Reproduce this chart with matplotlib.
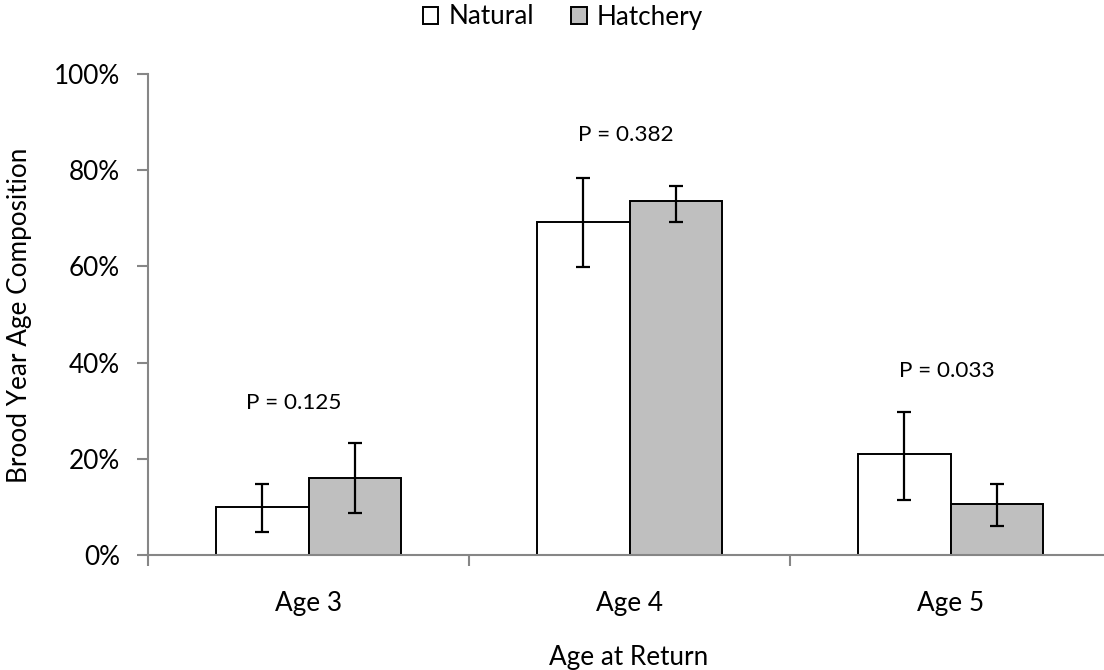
import matplotlib
matplotlib.use("Agg")
import matplotlib.pyplot as plt
import numpy as np
from matplotlib.ticker import FixedLocator, FuncFormatter

plt.rcParams['font.family'] = ['Lato', 'DejaVu Sans']

categories = ["Age 3", "Age 4", "Age 5"]
series = ["Natural", "Hatchery"]
natural = [10.0, 69.2, 21.0]
natural_lo = [4.7, 59.8, 11.5]
natural_hi = [14.8, 78.3, 29.7]
hatchery = [16.0, 73.5, 10.7]
hatchery_lo = [8.7, 69.2, 6.1]
hatchery_hi = [23.3, 76.8, 14.8]
p_labels = ["P = 0.125", "P = 0.382", "P = 0.033"]
p_heights = [31.5, 87.3, 38.3]
y_ticks = [0, 20, 40, 60, 80, 100]

FS = 18.8
FS_P = 16.2

fig = plt.figure(figsize=(11.04, 6.70), dpi=100)
ax = fig.add_axes([148/1104, 115/670, 956/1104, 481/670])

x = np.arange(len(categories))
w = 0.287
axis_grey = "#868686"

def errs(vals, lo, hi):
    v = np.array(vals); return [v - np.array(lo), np.array(hi) - v]

ekw = dict(ecolor="black", elinewidth=1.6, capsize=5, capthick=1.6)
ax.bar(x - w/2, natural, w, color="white", edgecolor="black", linewidth=1.4,
       yerr=errs(natural, natural_lo, natural_hi), error_kw=ekw, label=series[0], zorder=2)
ax.bar(x + w/2, hatchery, w, color="#bfbfbf", edgecolor="black", linewidth=1.4,
       yerr=errs(hatchery, hatchery_lo, hatchery_hi), error_kw=ekw, label=series[1], zorder=2)

for xi, lab, h, dx in zip(x, p_labels, p_heights, [-0.045, -0.012, -0.01]):
    ax.text(xi + dx, h, lab, ha="center", va="center", fontsize=FS_P, color="black")

ax.set_xlim(-0.5, -0.5 + 956/321)
ax.set_ylim(0, 100)
ax.set_yticks(y_ticks)
ax.yaxis.set_major_formatter(FuncFormatter(lambda v, p: f"{v:.0f}%"))
ax.xaxis.set_major_locator(FixedLocator([-0.5, 0.5, 1.5]))
ax.xaxis.set_minor_locator(FixedLocator(list(x)))
ax.xaxis.set_major_formatter(FuncFormatter(lambda v, p: ""))
ax.xaxis.set_minor_formatter(FuncFormatter(lambda v, p: categories[int(round(v))]))
ax.tick_params(axis="x", which="major", length=8, width=1.5, color=axis_grey)
ax.tick_params(axis="x", which="minor", length=0, pad=26, labelsize=FS)
ax.tick_params(axis="y", length=8, width=1.5, color=axis_grey, labelsize=FS, pad=12)

for s in ["top", "right"]:
    ax.spines[s].set_visible(False)
for s in ["left", "bottom"]:
    ax.spines[s].set_color(axis_grey)
    ax.spines[s].set_linewidth(1.5)

ax.set_xlabel("Age at Return", fontsize=FS)
ax.xaxis.label.set_va("center")
ax.xaxis.set_label_coords((629 - 148) / 956, (555 - 657) / 481)
ax.set_ylabel("Brood Year Age Composition", fontsize=FS)
ax.yaxis.label.set_va("center")
ax.yaxis.set_label_coords((20 - 148) / 956, (555 - 315) / 481)

fig.legend(loc="center", bbox_to_anchor=(563/1104, 1 - 17/670), ncol=2, frameon=False,
           fontsize=FS, handlelength=0.6, handleheight=0.6, handletextpad=0.4,
           columnspacing=1.4, borderpad=0.0)

fig.savefig("out.png", dpi=100)
